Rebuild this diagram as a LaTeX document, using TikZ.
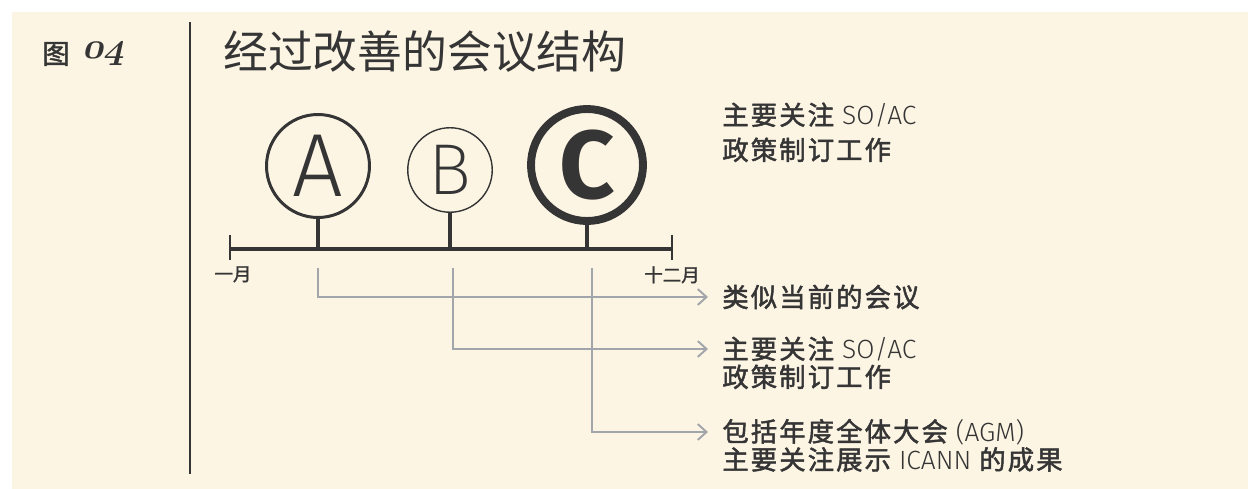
\documentclass[tikz,border=0pt]{standalone}
\usepackage{fontspec}
\usetikzlibrary{positioning,arrows.meta}

\setmainfont{Fira Sans}
\newfontfamily\cjk{Noto Sans CJK SC}
\newfontfamily\cjkmed{Noto Sans CJK SC}[FakeBold=1.6]
\newfontfamily\cjklabel{Noto Sans CJK SC}[LetterSpace=8, FakeBold=1.8]
\newfontfamily\lightsans{Fira Sans Light}
\newfontfamily\thinsans{Fira Sans ExtraLight}
\newcommand{\figno}[1]{{\fontencoding{OML}\fontfamily{cmm}\fontseries{b}\fontshape{it}\fontsize{20.74}{24}\selectfont #1}}

\definecolor{paper}{HTML}{FDF5E4}
\definecolor{ink}{HTML}{353535}
\definecolor{guide}{HTML}{A2A6AA}

\tikzset{
  meeting/.style={circle, draw=ink, text=ink, inner sep=0pt},
  stem/.style={draw=ink, line width=2.6pt},
  guideline/.style={draw=guide, line width=1.1pt, -{Straight Barb[length=5pt,width=9pt,line width=1.1pt]}},
  note/.style={anchor=west, inner sep=0pt, text=ink, font=\cjklabel\fontsize{15}{18}\selectfont},
  month/.style={inner sep=0pt, text=ink, font=\cjkmed\fontsize{10.5}{12}\selectfont},
}

\begin{document}
\begin{tikzpicture}[x=0.02cm, y=-0.02cm]

  % Page
  \useasboundingbox (0,0) rectangle (1248,489);
  \fill[white] (0,0) rectangle (1248,489);
  \fill[paper] (12,12) rectangle (1248,489);
  \draw[ink, line width=1.4pt] (190,22) -- (190,474);

  % Heading
  \node[inner sep=0pt, text=ink, font=\cjkmed\fontsize{15.5}{18}\selectfont] (fig) at (56,54) {图};
  \node[inner sep=0pt, text=ink, xslant=0.22, transform shape, right=0.26cm of fig] (num) {\figno{04}};
  \node[anchor=west, inner sep=0pt, text=ink, font=\cjk\fontsize{25.5}{30}\selectfont] (title) at (223,52) {经过改善的会议结构};

  % Meetings
  \node[meeting, minimum size=2.06cm, line width=1.7pt, font=\lightsans\fontsize{51}{51}\selectfont] (A) at (318,166) {A};
  \node[meeting, minimum size=1.69cm, line width=0.8pt, font=\thinsans\fontsize{41}{41}\selectfont] (B) at (450,170) {B};
  \node[meeting, minimum size=2.24cm, line width=4.5pt, font=\bfseries\fontsize{55}{55}\selectfont] (C) at (587,165) {C};

  % Year line
  \coordinate (jan) at (230,249);
  \coordinate (dec) at (672,249);
  \draw[ink, line width=2.8pt] (jan) -- (dec);
  \draw[ink, line width=1pt] (jan) ++(0,-14) -- ++(0,25);
  \draw[ink, line width=1pt] (dec) ++(0,-14) -- ++(0,25);
  \node[month, below=0.34cm of jan, xshift=0.06cm] (m1) {一月};
  \node[month, below=0.34cm of dec] (m12) {十二月};

  \draw[stem] (A.south) -- (A.south |- jan);
  \draw[stem] (B.south) -- (B.south |- jan);
  \draw[stem] (C.south) -- (C.south |- jan);

  % Notes
  \node[note] (top1) at (722,115) {主要关注 {\lightsans SO/AC}};
  \node[note, below=0.19cm of top1.south west, anchor=north west] (top2) {政策制订工作};

  \node[note] (na) at (722,297) {类似当前的会议};
  \node[note] (nb1) at (722,349) {主要关注 {\lightsans SO/AC}};
  \node[note, below=0.05cm of nb1.south west, anchor=north west] (nb2) {政策制订工作};
  \node[note] (nc1) at (722,432) {包括年度全体大会 {\lightsans (AGM)}};
  \node[note, below=0.03cm of nc1.south west, anchor=north west] (nc2) {主要关注展示 {\lightsans ICANN} 的成果};

  % Connect the meetings to the notes
  \coordinate (ga) at (318,268);
  \coordinate (gb) at (453,268);
  \coordinate (gc) at (592,268);
  \draw[guideline] (ga) |- ([xshift=-0.28cm]na.west);
  \draw[guideline] (gb) |- ([xshift=-0.28cm]nb1.west);
  \draw[guideline] (gc) |- ([xshift=-0.28cm]nc1.west);

\end{tikzpicture}
\end{document}
